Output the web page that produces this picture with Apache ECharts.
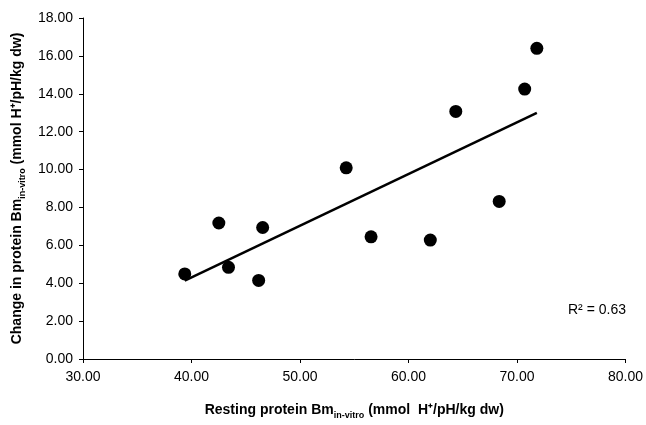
<!DOCTYPE html>
<html>
<head>
<meta charset="utf-8">
<script src="https://cdn.jsdelivr.net/npm/echarts@6/dist/echarts.min.js"></script>
<style>
html,body{margin:0;padding:0;background:#fff;}
#chart{width:646px;height:425px;}
</style>
</head>
<body>
<div id="chart"></div>
<script>
// Resting protein Bm (x) vs change in protein Bm (y)
var restingBm = [39.38, 42.52, 43.41, 46.19, 46.56, 54.26, 56.55, 62.01, 64.36, 68.36, 70.71, 71.83];
var changeBm  = [4.49, 7.18, 4.84, 4.15, 6.94, 10.09, 6.45, 6.28, 13.07, 8.32, 14.25, 16.40];
var r2Label = 'R² = 0.63';

var points = restingBm.map(function (x, i) { return [x, changeBm[i]]; });

// least-squares trend line
var n = restingBm.length, mx = 0, my = 0;
for (var i = 0; i < n; i++) { mx += restingBm[i]; my += changeBm[i]; }
mx /= n; my /= n;
var sxy = 0, sxx = 0;
for (var i = 0; i < n; i++) { sxy += (restingBm[i]-mx)*(changeBm[i]-my); sxx += (restingBm[i]-mx)*(restingBm[i]-mx); }
var slope = sxy / sxx, icpt = my - slope * mx;
var xMin = Math.min.apply(null, restingBm), xMax = Math.max.apply(null, restingBm);
var trend = [[xMin, icpt + slope * xMin], [xMax, icpt + slope * xMax]];

var FONT = "'Liberation Sans', Arial, sans-serif";
var chart = echarts.init(document.getElementById('chart'), null, {renderer: 'canvas'});
chart.setOption({
  animation: false,
  backgroundColor: '#fff',
  grid: {left: 83, right: 18, top: 18, bottom: 61, containLabel: false},
  xAxis: {
    type: 'value', min: 30, max: 80, interval: 10,
    axisLine: {show: true, lineStyle: {color: '#000', width: 1}},
    axisTick: {show: true, length: 4, lineStyle: {color: '#000'}},
    splitLine: {show: false},
    axisLabel: {color: '#000', fontFamily: FONT, fontSize: 14, margin: 11,
      formatter: function (v) { return v.toFixed(2); }},
    name: '{b|Resting protein Bm}{s|in-vitro}{b| (mmol  H⁺/pH/kg dw)}',
    nameLocation: 'middle', nameGap: 40,
    nameTextStyle: {
      rich: {
        b: {fontFamily: FONT, fontWeight: 'bold', fontSize: 14, color: '#000', lineHeight: 18, verticalAlign: 'bottom'},
        s: {fontFamily: FONT, fontWeight: 'bold', fontSize: 9, color: '#000', lineHeight: 14, verticalAlign: 'bottom', padding: [0, 0, -3, 0]}
      }
    }
  },
  yAxis: {
    type: 'value', min: 0, max: 18, interval: 2,
    axisLine: {show: true, lineStyle: {color: '#000', width: 1}},
    axisTick: {show: true, length: 4, lineStyle: {color: '#000'}},
    splitLine: {show: false},
    axisLabel: {color: '#000', fontFamily: FONT, fontSize: 14, margin: 10,
      formatter: function (v) { return v.toFixed(2); }},
    name: '{b|Change in protein Bm}{s|in-vitro}{b| (mmol H⁺/pH/kg dw)}',
    nameLocation: 'middle', nameGap: 58, nameRotate: 90,
    nameTextStyle: {
      rich: {
        b: {fontFamily: FONT, fontWeight: 'bold', fontSize: 14, color: '#000', lineHeight: 18, verticalAlign: 'bottom'},
        s: {fontFamily: FONT, fontWeight: 'bold', fontSize: 9, color: '#000', lineHeight: 14, verticalAlign: 'bottom', padding: [0, 0, -3, 0]}
      }
    }
  },
  series: [
    {
      type: 'line', data: trend, showSymbol: false, symbol: 'none',
      lineStyle: {color: '#000', width: 2.5}, z: 2, silent: true
    },
    {
      type: 'scatter', data: points, symbol: 'circle', symbolSize: 13,
      itemStyle: {color: '#000', opacity: 1}, z: 3
    }
  ],
  graphic: [{
    type: 'text', left: 568, top: 303,
    style: {text: r2Label, fontFamily: FONT, fontSize: 14, fill: '#000'}
  }]
});
</script>
</body>
</html>
